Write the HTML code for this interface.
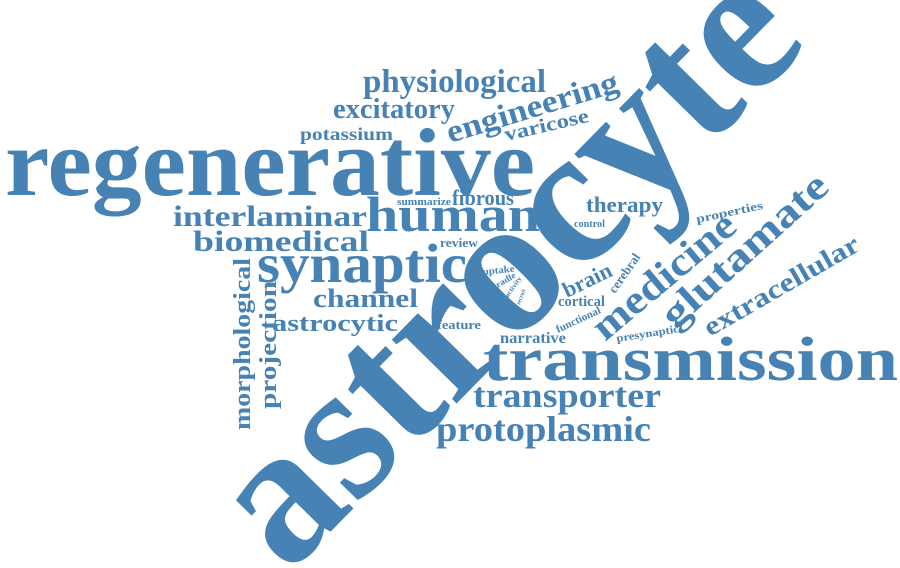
<!DOCTYPE html>
<html><head><meta charset="utf-8"><style>
html,body{margin:0;padding:0;background:#fff;width:900px;height:568px;overflow:hidden}
svg text{font-family:"Liberation Serif",serif;font-weight:bold;fill:#4682b4}
</style></head><body>
<svg width="900" height="568" viewBox="0 0 900 568">
<text font-size="198" textLength="745" lengthAdjust="spacingAndGlyphs" transform="translate(288,575) rotate(-45.5)">astrocyte</text>
<text x="5" y="195" font-size="96" textLength="530" lengthAdjust="spacingAndGlyphs">regenerative</text>
<text x="483" y="380" font-size="62" textLength="415" lengthAdjust="spacingAndGlyphs">transmission</text>
<text x="363" y="92" font-size="33" textLength="183" lengthAdjust="spacingAndGlyphs">physiological</text>
<text x="333" y="118" font-size="28" textLength="122" lengthAdjust="spacingAndGlyphs">excitatory</text>
<text font-size="32" textLength="178" lengthAdjust="spacingAndGlyphs" transform="translate(450,143) rotate(-17)">engineering</text>
<text font-size="20" textLength="86" lengthAdjust="spacingAndGlyphs" transform="translate(506,141) rotate(-13)">varicose</text>
<text x="300" y="140" font-size="18" textLength="93" lengthAdjust="spacingAndGlyphs">potassium</text>
<text x="452" y="205" font-size="22" textLength="62" lengthAdjust="spacingAndGlyphs">fibrous</text>
<text x="397" y="205" font-size="11" textLength="54" lengthAdjust="spacingAndGlyphs">summarize</text>
<text x="173" y="226" font-size="30" textLength="194" lengthAdjust="spacingAndGlyphs">interlaminar</text>
<text x="366" y="231" font-size="50" textLength="174" lengthAdjust="spacingAndGlyphs">human</text>
<text x="193" y="251" font-size="30" textLength="176" lengthAdjust="spacingAndGlyphs">biomedical</text>
<text x="257" y="282" font-size="55" textLength="210" lengthAdjust="spacingAndGlyphs">synaptic</text>
<text x="440" y="247" font-size="13" textLength="38" lengthAdjust="spacingAndGlyphs">review</text>
<text x="586" y="212" font-size="22" textLength="77" lengthAdjust="spacingAndGlyphs">therapy</text>
<text x="574" y="227" font-size="10" textLength="31" lengthAdjust="spacingAndGlyphs">control</text>
<text font-size="12" textLength="68" lengthAdjust="spacingAndGlyphs" transform="translate(697,223) rotate(-12)">properties</text>
<text font-size="40" textLength="175" lengthAdjust="spacingAndGlyphs" transform="translate(605,342) rotate(-40)">medicine</text>
<text font-size="40" textLength="210" lengthAdjust="spacingAndGlyphs" transform="translate(675,330) rotate(-42)">glutamate</text>
<text font-size="27" textLength="175" lengthAdjust="spacingAndGlyphs" transform="translate(710,337) rotate(-30)">extracellular</text>
<text font-size="22" textLength="52" lengthAdjust="spacingAndGlyphs" transform="translate(567,298) rotate(-26)">brain</text>
<text font-size="13" textLength="45" lengthAdjust="spacingAndGlyphs" transform="translate(615,294) rotate(-55)">cerebral</text>
<text x="558" y="306" font-size="15" textLength="47" lengthAdjust="spacingAndGlyphs">cortical</text>
<text font-size="11" textLength="48" lengthAdjust="spacingAndGlyphs" transform="translate(558,333) rotate(-25)">functional</text>
<text font-size="11" textLength="63" lengthAdjust="spacingAndGlyphs" transform="translate(617,342) rotate(-9)">presynaptic</text>
<text x="313" y="307" font-size="26" textLength="105" lengthAdjust="spacingAndGlyphs">channel</text>
<text x="272" y="331" font-size="24" textLength="126" lengthAdjust="spacingAndGlyphs">astrocytic</text>
<text x="437" y="329" font-size="13" textLength="44" lengthAdjust="spacingAndGlyphs">feature</text>
<text x="500" y="343" font-size="16" textLength="66" lengthAdjust="spacingAndGlyphs">narrative</text>
<text x="473" y="407" font-size="35" textLength="188" lengthAdjust="spacingAndGlyphs">transporter</text>
<text x="436" y="441" font-size="36" textLength="215" lengthAdjust="spacingAndGlyphs">protoplasmic</text>
<text font-size="24" textLength="172" lengthAdjust="spacingAndGlyphs" transform="translate(250,430) rotate(-90)">morphological</text>
<text font-size="24" textLength="128" lengthAdjust="spacingAndGlyphs" transform="translate(276,409) rotate(-90)">projection</text>
<text font-size="10" textLength="32" lengthAdjust="spacingAndGlyphs" transform="translate(483,275) rotate(-6)">uptake</text>
<text font-size="9" textLength="26" lengthAdjust="spacingAndGlyphs" transform="translate(494,290) rotate(-30)">cradle</text>
<text font-size="7" textLength="24" lengthAdjust="spacingAndGlyphs" transform="translate(508,298) rotate(-55)">activity</text>
<text font-size="6" textLength="16" lengthAdjust="spacingAndGlyphs" transform="translate(520,305) rotate(-70)">recruit</text>
</svg>
</body></html>
